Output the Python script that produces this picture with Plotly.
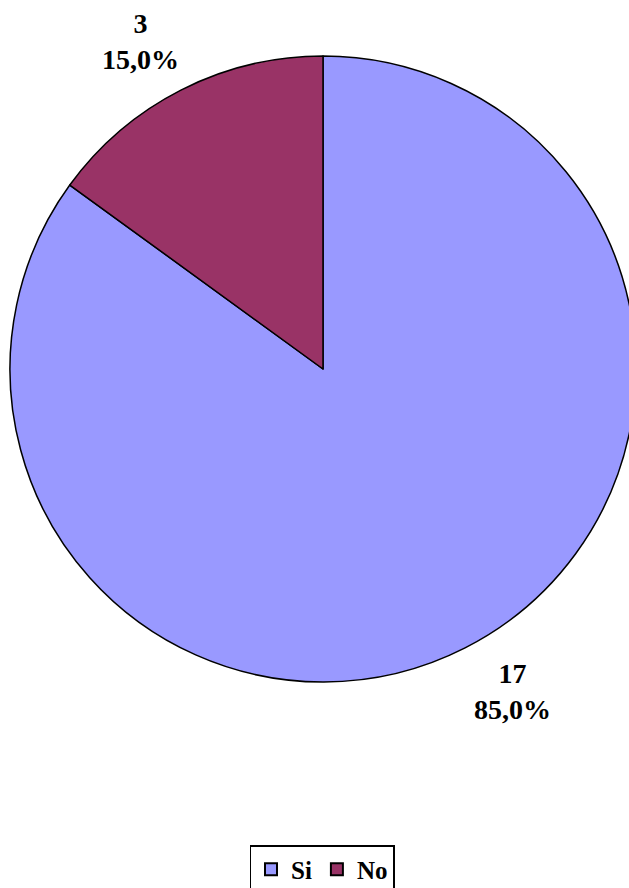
import plotly.graph_objects as go

# Survey answers
labels = ["Si", "No"]
values = [17, 3]
colors = ["#9999FF", "#993366"]

total = sum(values)
pct_text = [f"{v / total * 100:.1f}%".replace(".", ",") for v in values]

W, H = 645, 888  # canvas slightly wider than the view so the pie bleeds off the right edge
SERIF = "Times New Roman, Liberation Serif, serif"

fig = go.Figure(
    go.Pie(
        labels=[f"<b>{l}</b>" for l in labels],
        values=values,
        sort=False,
        direction="clockwise",
        rotation=0,
        marker=dict(colors=colors, line=dict(color="black", width=1.5)),
        textinfo="none",
        hoverinfo="label+value+percent",
        domain=dict(x=[10 / W, 636 / W], y=[1 - 682 / H, 1 - 56 / H]),
    )
)

# value / percent labels placed outside each slice
label_pos = {"Si": (512, 691), "No": (140, 41)}
for lab, v, p in zip(labels, values, pct_text):
    px, py = label_pos[lab]
    fig.add_annotation(
        x=px / W, y=1 - py / H, xref="paper", yref="paper",
        text=f"<b>{v}<br>{p}</b>", showarrow=False,
        xanchor="center", yanchor="middle",
        font=dict(family=SERIF, size=28, color="black"),
        align="center",
    )

fig.update_layout(
    width=W, height=H,
    margin=dict(l=0, r=0, t=0, b=0, autoexpand=False),
    paper_bgcolor="white",
    plot_bgcolor="white",
    showlegend=True,
    legend=dict(
        orientation="h",
        x=322 / W, xanchor="center",
        y=1 - 845 / H, yanchor="top",
        bordercolor="black", borderwidth=1.5,
        font=dict(family=SERIF, size=25, color="black"),
        itemsizing="constant",
        itemwidth=30,
        bgcolor="white",
    ),
)

fig.write_html("out.html")
